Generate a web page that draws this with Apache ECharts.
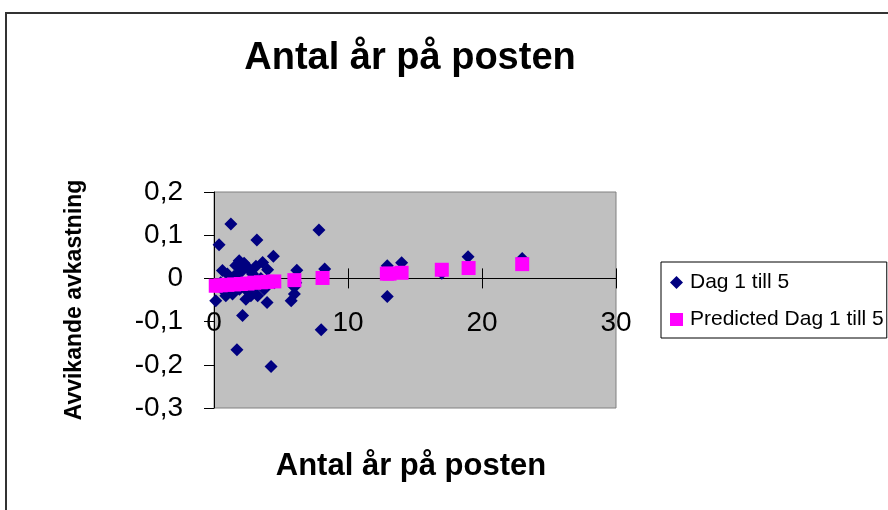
<!DOCTYPE html>
<html>
<head>
<meta charset="utf-8">
<script src="https://cdn.jsdelivr.net/npm/echarts@6/dist/echarts.min.js"></script>
<style>html,body{margin:0;padding:0;background:#fff}#c{width:888px;height:510px}</style>
</head>
<body>
<div id="c"></div>
<script>
// Observed: Dag 1 till 5 (x = years in position, y = abnormal return)
const dagX = [0.13,0.38,0.5,0.63,0.75,0.88,1.0,1.13,1.26,1.38,1.5,1.63,1.71,1.88,1.9,2.0,2.13,2.25,2.38,2.38,2.5,2.63,2.75,2.88,3.0,3.13,3.2,3.26,3.5,3.63,3.75,3.96,4.0,4.26,4.43,4.5,5.76,6.0,6.0,6.18,6.1,7.83,8.0,8.26,12.93,12.93,14.0,17.0,18.96,23.0];
const dagY = [-0.052,0.078,-0.01,0.018,-0.03,-0.04,0.01,-0.02,0.126,-0.036,0.005,0.03,-0.165,0.041,-0.025,0.015,-0.086,0.035,-0.048,0.029,-0.03,0.02,-0.04,0.01,-0.02,0.028,0.089,-0.04,0.0,0.037,-0.025,-0.056,0.02,-0.204,0.051,-0.01,-0.052,-0.036,-0.02,0.019,-0.01,0.112,-0.119,0.022,0.029,-0.042,0.036,0.012,0.05,0.046];
// Predicted Dag 1 till 5
const predX = [0.13,0.5,1.0,1.5,2.0,2.5,3.0,3.5,4.0,4.5,6.0,8.1,12.9,13.1,14.0,17.0,19.0,23.0];
const predY = [-0.017,-0.016,-0.015,-0.014,-0.013,-0.012,-0.010,-0.009,-0.008,-0.007,-0.004,0.001,0.011,0.011,0.013,0.020,0.024,0.033];
const xTicks = [0,10,20,30];
const yTicks = [-0.3,-0.2,-0.1,0,0.1,0.2];

const FONT = "'Liberation Sans', Arial, sans-serif";
const pair = (xs, ys) => xs.map((x, i) => [x, ys[i]]);
const fmtY = v => String(+(+v).toFixed(1)).replace('.', ',');

// plot geometry
const G = { left: 214, top: 192, width: 402, height: 216 };
const yMin = yTicks[0], yMax = yTicks[yTicks.length - 1];
const zeroOff = G.height * (yMax / (yMax - yMin)); // distance from top to y=0

const xBase = { type: 'value', min: xTicks[0], max: xTicks[xTicks.length - 1], interval: 10, splitLine: { show: false } };
const black = { color: '#000', width: 1 };

const chart = echarts.init(document.getElementById('c'));
chart.setOption({
  animation: false,
  backgroundColor: '#ffffff',
  textStyle: { fontFamily: FONT },
  graphic: [{
    type: 'rect', z: -10,
    shape: { x: 6, y: 13, width: 900, height: 520 },
    style: { fill: 'none', stroke: '#333333', lineWidth: 2 }
  }],
  title: [
    { text: 'Antal år på posten', left: 410, top: 40, textAlign: 'center', padding: 0,
      textStyle: { fontFamily: FONT, fontSize: 38, fontWeight: 'bold', color: '#000' } },
    { text: 'Antal år på posten', left: 411, top: 451, textAlign: 'center', padding: 0,
      textStyle: { fontFamily: FONT, fontSize: 31, fontWeight: 'bold', color: '#000' } }
  ],
  legend: {
    orient: 'vertical', left: 661, top: 262,
    padding: [10, 3, 8, 9], itemGap: 16,
    itemWidth: 13, itemHeight: 13,
    borderColor: '#000', borderWidth: 1, backgroundColor: '#fff',
    textStyle: { fontFamily: FONT, fontSize: 21, color: '#000', padding: [0, 0, 0, 2] },
    data: [
      { name: 'Dag 1 till 5', icon: 'diamond' },
      { name: 'Predicted Dag 1 till 5', icon: 'rect' }
    ]
  },
  grid: [
    { left: G.left, top: G.top, width: G.width, height: G.height,
      show: true, backgroundColor: '#C0C0C0', borderColor: '#808080', borderWidth: 1 },
    { left: G.left, top: G.top, width: G.width, height: zeroOff },
    { left: G.left, top: G.top + zeroOff, width: G.width, height: G.height - zeroOff }
  ],
  xAxis: [
    Object.assign({}, xBase, { gridIndex: 0, show: false }),
    Object.assign({}, xBase, {
      gridIndex: 1, position: 'bottom',
      axisLine: { show: true, onZero: false, lineStyle: black },
      axisTick: { show: true, length: 10, lineStyle: black },
      axisLabel: { fontFamily: FONT, fontSize: 28, color: '#000', margin: 31 }
    }),
    Object.assign({}, xBase, {
      gridIndex: 2, position: 'top',
      axisLine: { show: true, onZero: false, lineStyle: black },
      axisTick: { show: true, length: 10, lineStyle: black },
      axisLabel: { show: false }
    })
  ],
  yAxis: [{
    gridIndex: 0, type: 'value', min: yMin, max: yMax, interval: 0.1,
    name: 'Avvikande avkastning', nameLocation: 'middle', nameRotate: 90, nameGap: 128,
    nameTextStyle: { fontFamily: FONT, fontSize: 23, fontWeight: 'bold', color: '#000' },
    axisLine: { show: true, onZero: false, lineStyle: black },
    axisTick: { show: true, length: 10, lineStyle: black },
    axisLabel: { fontFamily: FONT, fontSize: 28, color: '#000', margin: 31, formatter: fmtY },
    splitLine: { show: false }
  },
  { gridIndex: 1, type: 'value', min: 0, max: 1, show: false },
  { gridIndex: 2, type: 'value', min: 0, max: 1, show: false }],
  series: [{
    name: 'Dag 1 till 5', type: 'scatter', xAxisIndex: 0, yAxisIndex: 0,
    symbol: 'diamond', symbolSize: 13,
    itemStyle: { color: '#000080', opacity: 1 },
    emphasis: { disabled: true },
    data: pair(dagX, dagY), z: 2
  }, {
    name: 'Predicted Dag 1 till 5', type: 'scatter', xAxisIndex: 0, yAxisIndex: 0,
    symbol: 'rect', symbolSize: 14,
    itemStyle: { color: '#FF00FF', opacity: 1 },
    emphasis: { disabled: true },
    data: pair(predX, predY), z: 3
  }]
});
</script>
</body>
</html>
